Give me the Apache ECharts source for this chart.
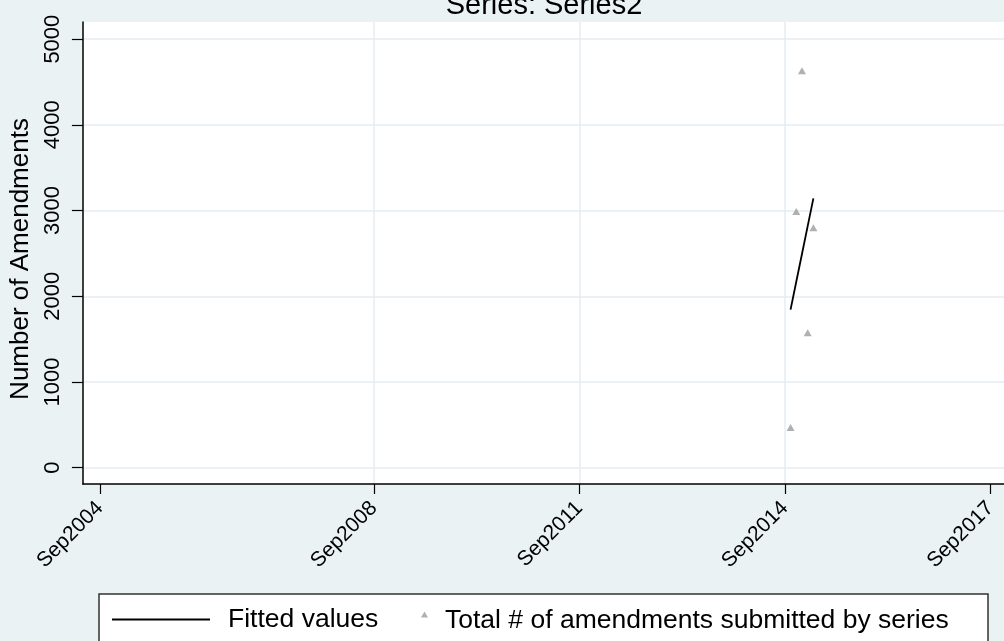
<!DOCTYPE html>
<html>
<head>
<meta charset="utf-8">
<title>Series: Series2</title>
<script src="https://cdn.jsdelivr.net/npm/echarts@6.0.0/dist/echarts.min.js"></script>
<style>
  html, body { margin: 0; padding: 0; background: #EAF2F3; }
  #chart { width: 1004px; height: 641px; }
</style>
</head>
<body>
<div id="chart"></div>
<script>
// Monthly dates counted as months since Jan 1960 (Oct2014 .. Feb2015)
const months = [657, 658, 659, 660, 661];
// Total number of amendments submitted in each month
const amendments = [470, 2990, 4630, 1575, 2800];
// Linear fit of amendments on month
const fitted = [1844, 2169, 2493, 2818, 3142];

// Axis ticks
const xTickMonths = [536, 584, 620, 656, 692];
const xTickLabels = ['Sep2004', 'Sep2008', 'Sep2011', 'Sep2014', 'Sep2017'];
const xGridMonths = [584, 620, 656];
const yTicks = [0, 1000, 2000, 3000, 4000, 5000];

const seriesNames = ['Fitted values', 'Total # of amendments submitted by series'];

const FONT = '"Liberation Sans", Helvetica, Arial, sans-serif';
const GRID_COLOR = '#E4EDF0';
// small triangle sitting in the upper part of a taller icon box,
// so it rides a little above the middle of the legend text
const RAISED_TRIANGLE = 'path://M3.5,0L7,6L0,6Z M0,18L0.01,18L0,17.99Z';

const chart = echarts.init(document.getElementById('chart'), null, { renderer: 'canvas' });

chart.setOption({
  backgroundColor: '#EAF2F3',
  animation: false,
  title: {
    text: 'Series: Series2',
    left: 539,
    top: -14,
    textAlign: 'center',
    textStyle: { fontFamily: FONT, fontSize: 29, fontWeight: 'normal', color: '#000' }
  },
  grid: {
    left: 81, right: 0, top: 22, bottom: 157,
    show: true, backgroundColor: '#ffffff', borderWidth: 0
  },
  xAxis: [
    {
      type: 'value',
      min: 533,
      max: 694.4,
      axisLine: { show: true, onZero: false, lineStyle: { color: '#000', width: 1.5 } },
      axisTick: { show: true, length: 10, customValues: xTickMonths, lineStyle: { color: '#000', width: 1.2 } },
      axisLabel: {
        show: true,
        customValues: xTickMonths,
        rotate: 45,
        margin: 21,
        fontFamily: FONT,
        fontSize: 21,
        color: '#000',
        formatter: v => xTickLabels[xTickMonths.indexOf(v)] || ''
      },
      splitLine: { show: false }
    },
    {
      // carries only the vertical grid lines
      type: 'value',
      min: 533,
      max: 694.4,
      position: 'bottom',
      axisLine: { show: false },
      axisTick: { show: false, customValues: xGridMonths },
      axisLabel: { show: false, customValues: xGridMonths },
      splitLine: { show: true, lineStyle: { color: GRID_COLOR, width: 1.5 } }
    }
  ],
  yAxis: {
    type: 'value',
    min: -190,
    max: 5200,
    name: 'Number of Amendments',
    nameLocation: 'middle',
    nameGap: 41,
    nameTextStyle: { fontFamily: FONT, fontSize: 26, color: '#000', padding: [0, 12, 0, 0] },
    axisLine: { show: true, onZero: false, lineStyle: { color: '#000', width: 1.5 } },
    axisTick: { show: true, length: 11, customValues: yTicks, lineStyle: { color: '#000', width: 1.2 } },
    axisLabel: {
      show: true,
      customValues: yTicks,
      rotate: 90,
      margin: 19,
      fontFamily: FONT,
      fontSize: 22,
      color: '#000',
      formatter: v => String(v)
    },
    splitLine: { show: true, lineStyle: { color: GRID_COLOR, width: 1.5 } }
  },
  legend: [
    {
      data: [{ name: seriesNames[0], icon: 'rect' }],
      left: 112,
      top: 606,
      padding: 0,
      z: 10,
      itemWidth: 98,
      itemHeight: 2,
      selectedMode: false,
      textStyle: { fontFamily: FONT, fontSize: 26.5, color: '#000', padding: [0, 0, 0, 13] }
    },
    {
      data: [{ name: seriesNames[1], icon: RAISED_TRIANGLE }],
      left: 421,
      top: 607,
      padding: 0,
      z: 10,
      itemWidth: 7,
      itemHeight: 18,
      selectedMode: false,
      textStyle: { fontFamily: FONT, fontSize: 26.5, color: '#000', padding: [0, 0, 0, 12] }
    }
  ],
  graphic: [
    {
      type: 'rect',
      z: 1,
      shape: { x: 99, y: 594, width: 889, height: 70 },
      style: { fill: '#ffffff', stroke: '#333333', lineWidth: 1.5 }
    }
  ],
  series: [
    {
      name: seriesNames[0],
      type: 'line',
      xAxisIndex: 0,
      data: months.map((m, i) => [m, fitted[i]]),
      symbol: 'none',
      color: '#000000',
      lineStyle: { color: '#000000', width: 1.8 },
      z: 3
    },
    {
      name: seriesNames[1],
      type: 'scatter',
      xAxisIndex: 0,
      data: months.map((m, i) => [m, amendments[i]]),
      symbol: 'triangle',
      symbolSize: [8, 7],
      color: '#9c9c9c',
      itemStyle: { color: '#9c9c9c' },
      z: 2
    }
  ]
});
</script>
</body>
</html>
